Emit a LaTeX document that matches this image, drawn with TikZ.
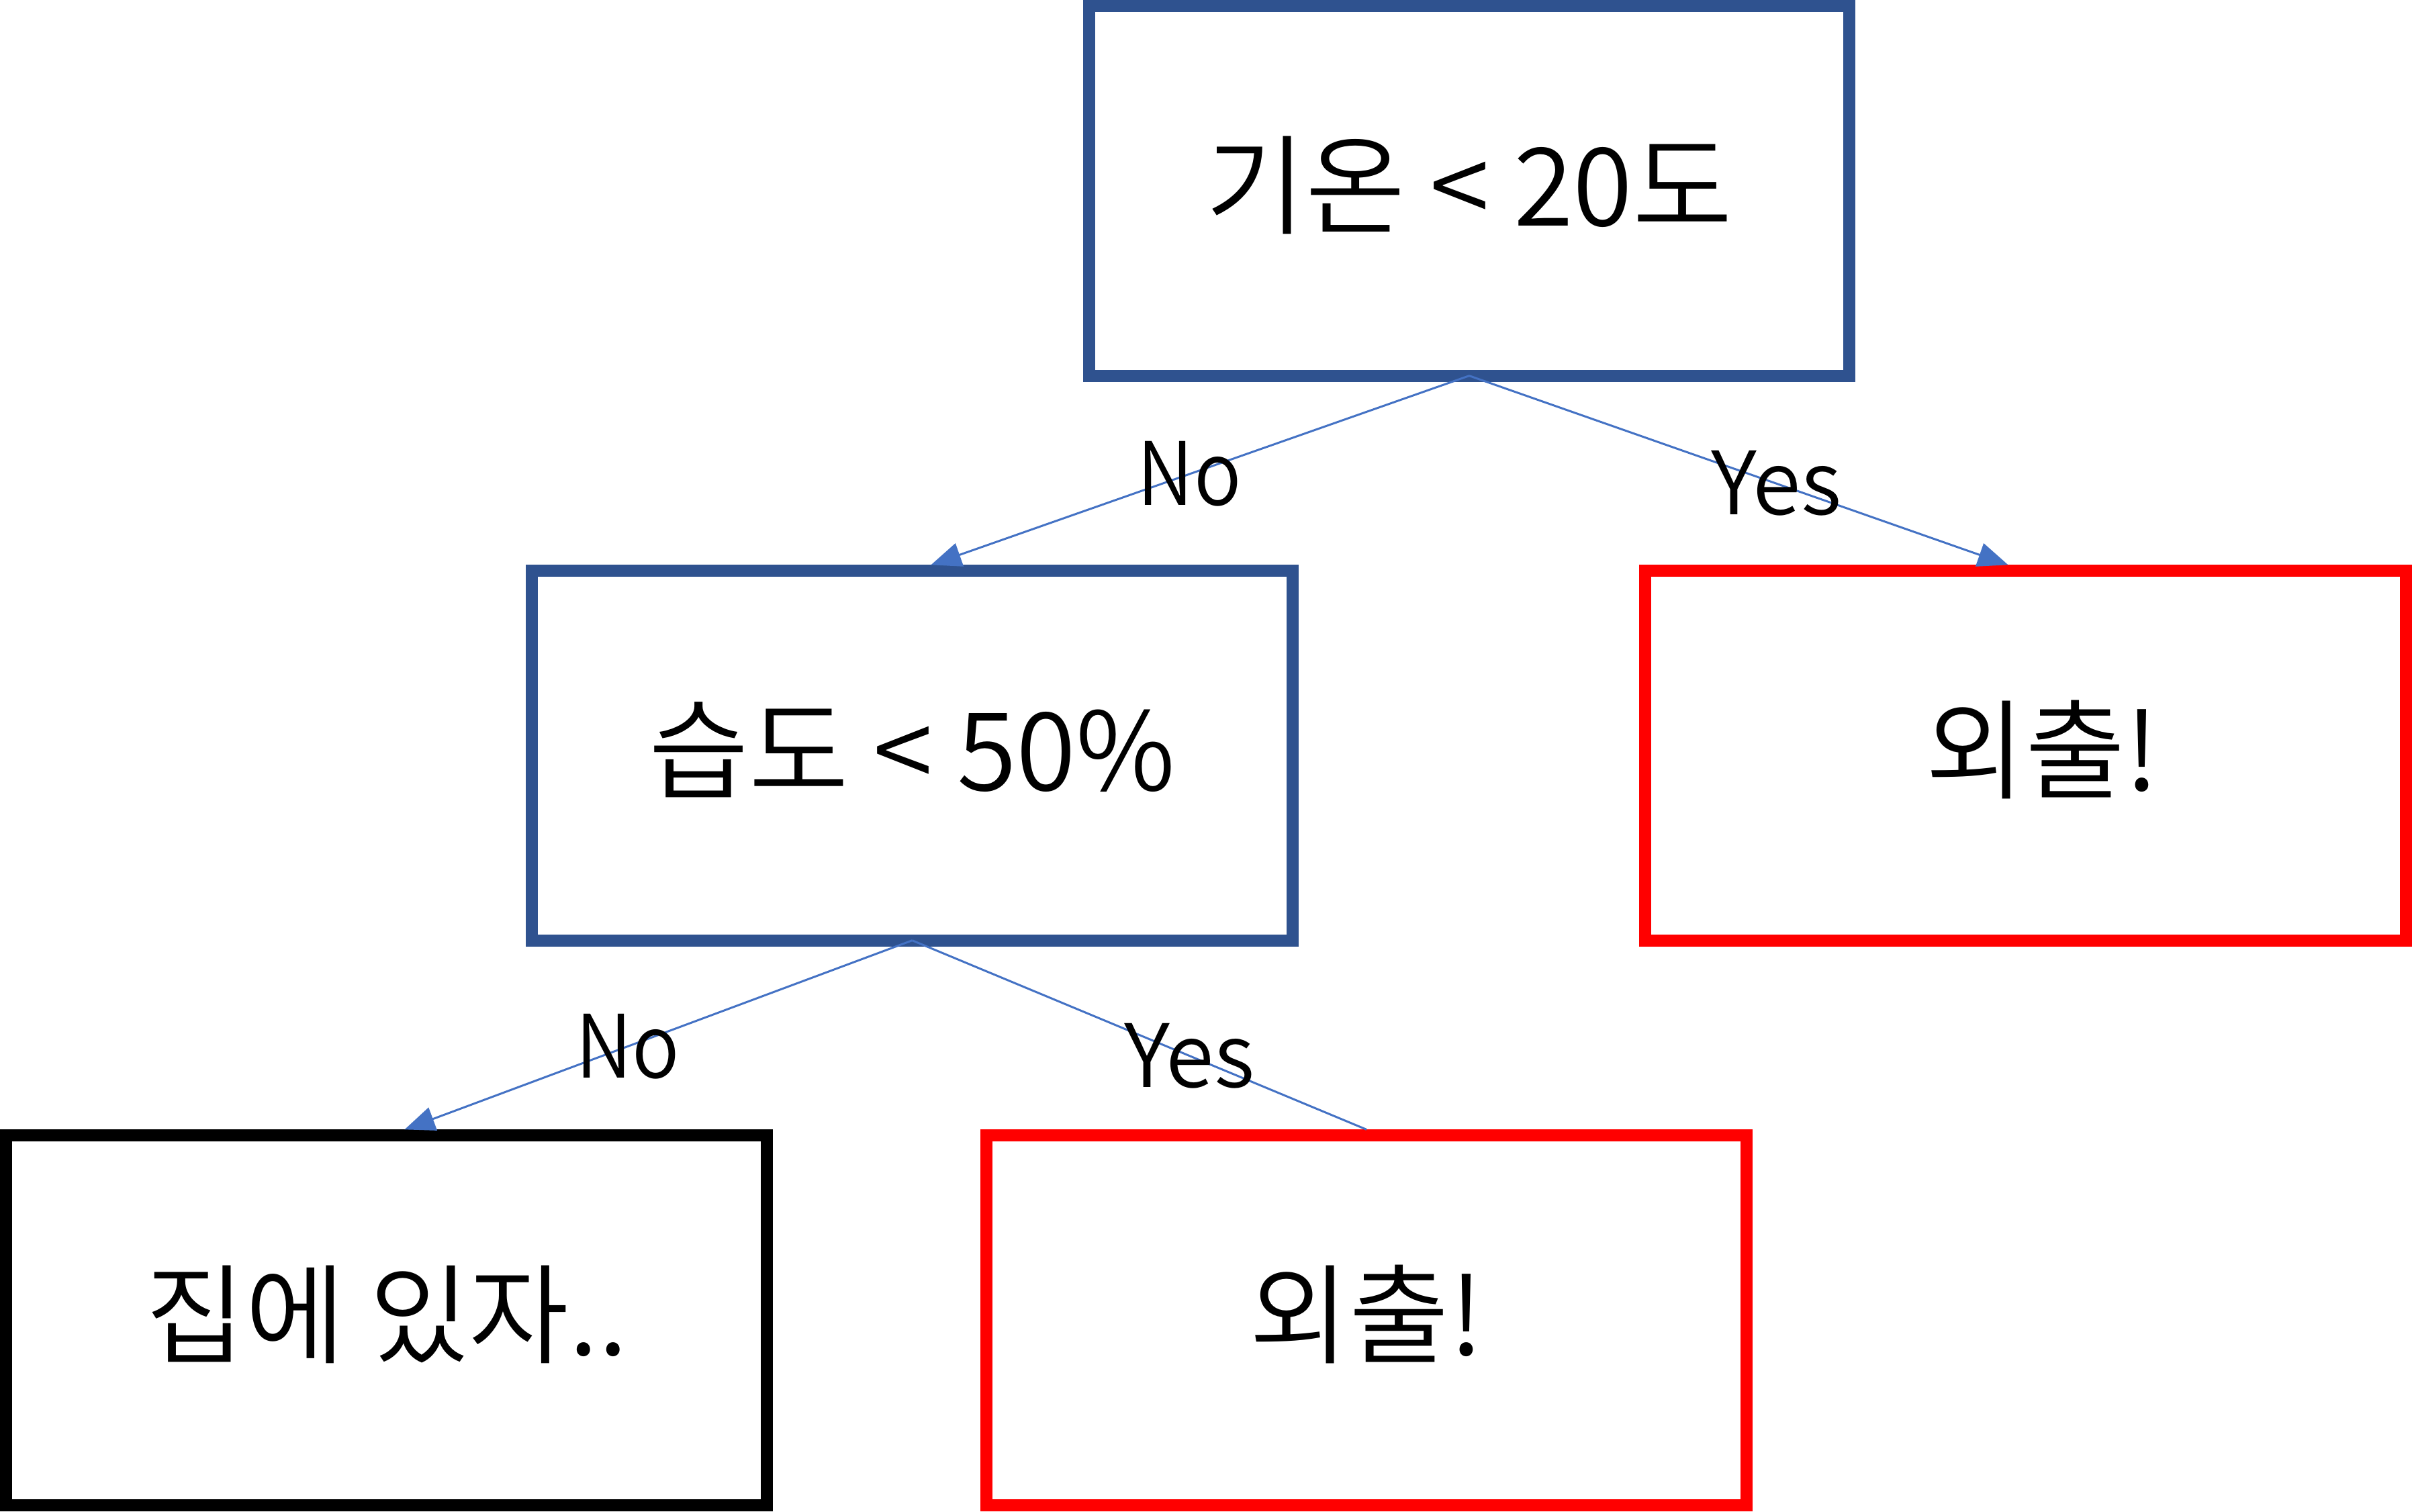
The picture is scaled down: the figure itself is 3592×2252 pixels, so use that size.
\documentclass[tikz,border=0pt]{standalone}
\usepackage{fontspec}
\setmainfont{Noto Sans CJK KR}[UprightFont={* DemiLight}]
\usetikzlibrary{arrows.meta,calc}
\definecolor{boxblue}{HTML}{2F528F}
\definecolor{lineblue}{HTML}{4472C4}
\begin{document}
\begin{tikzpicture}[x=0.01cm,y=-0.01cm,
  box/.style={draw, line width=0.18cm, minimum width=11.32cm, minimum height=5.5cm, inner sep=0pt, text height=1.4cm, text depth=0.36cm, font=\fontsize{46}{50}\selectfont},
  bluebox/.style={box, draw=boxblue},
  redbox/.style={box, draw=red},
  blackbox/.style={box, draw=black},
  conn/.style={draw=lineblue, line width=0.03cm},
  arr/.style={conn, -{Triangle[length=0.45cm,width=0.36cm]}},
  lbl/.style={font=\fontsize{37}{40}\selectfont, inner sep=0pt},
  nolbl/.style={lbl, xscale=0.9, transform shape}]
\useasboundingbox (0,0) rectangle (3592,2252);
\node[bluebox] (root) at (2188,284.5) {기온 < 20도};
\node[bluebox] (hum) at (1358.5,1125.5) {습도 < 50\%};
\node[redbox] (out1) at (3016.5,1125.5) {\hspace*{0.5cm}외출!};
\node[blackbox] (home) at (575.5,1966.5) {집에 있자..};
\node[redbox] (out2) at (2035,1966.5) {외출!};
\draw[arr] ($(root.south)+(0,-9)$) -- node[nolbl, pos=0.52] (l1) {No} ($(hum.north)+(28,0)$);
\draw[arr] ($(root.south)+(0,-9)$) -- node[lbl, pos=0.57] (l2) {Yes} ($(out1.north)+(-26,0)$);
\draw[arr] ($(hum.south)+(0,-9)$) -- node[nolbl, pos=0.56] (l3) {No} ($(home.north)+(27,0)$);
\draw[conn] ($(hum.south)+(0,-9)$) -- node[lbl, pos=0.61] (l4) {Yes} (out2.north);
\end{tikzpicture}
\end{document}
